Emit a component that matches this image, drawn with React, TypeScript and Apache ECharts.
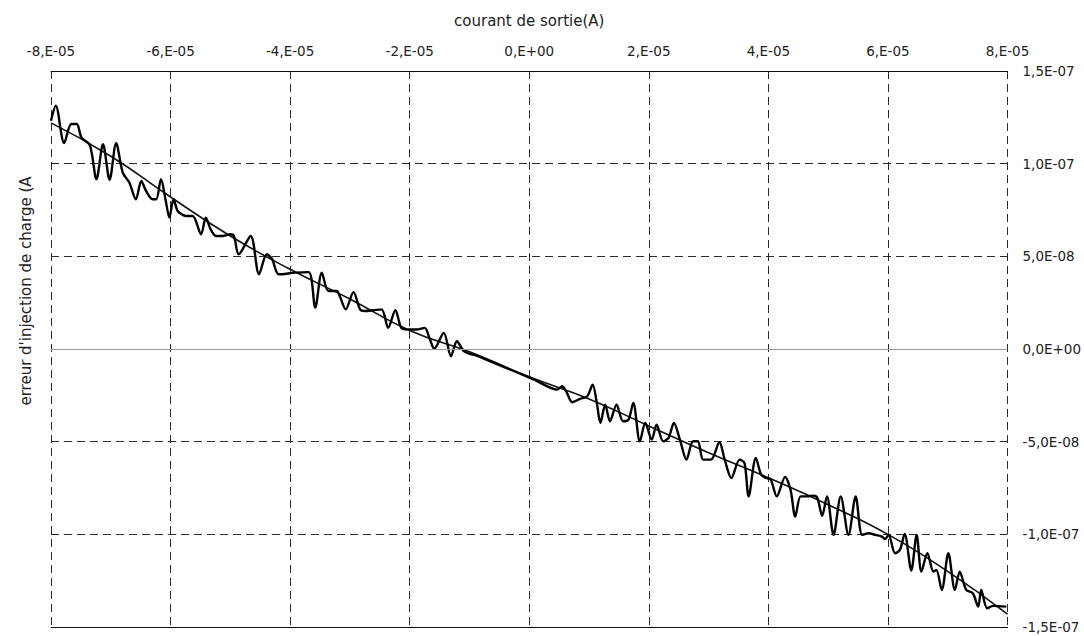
import React, { useEffect, useRef } from "react";
import * as echarts from "echarts";

// Noisy measured curve: x in units of 1E-05 A, y in units of 1E-08 A
const courantE5 = [
  -8.0, -7.92, -7.78, -7.66, -7.57, -7.49, -7.35, -7.24, -7.13, -7.02, -6.91, -6.8, -6.69, -6.58, -6.49,
  -6.41, -6.3, -6.24, -6.16, -6.08, -6.02, -5.95, -5.88, -5.74, -5.63, -5.49, -5.41, -5.33, -5.24, -5.13,
  -5.0, -4.94, -4.86, -4.66, -4.52, -4.39, -4.3, -4.19, -3.91, -3.69, -3.58, -3.47, -3.36, -3.22, -3.17,
  -3.07, -2.94, -2.83, -2.75, -2.61, -2.47, -2.36, -2.24, -2.14, -2.03, -1.89, -1.75, -1.67, -1.59, -1.43,
  -1.31, -1.21, -1.09, -0.86, -0.59, -0.25, 0.08, 0.47, 0.55, 0.62, 0.72, 0.85, 0.97, 1.06, 1.13,
  1.19, 1.27, 1.35, 1.46, 1.57, 1.66, 1.74, 1.85, 1.94, 2.05, 2.13, 2.24, 2.33, 2.42, 2.52,
  2.63, 2.74, 2.82, 2.91, 3.04, 3.18, 3.27, 3.38, 3.52, 3.6, 3.67, 3.79, 3.88, 3.96, 4.04,
  4.14, 4.28, 4.37, 4.45, 4.54, 4.65, 4.76, 4.82, 4.9, 4.98, 5.09, 5.21, 5.34, 5.46, 5.57,
  5.68, 5.79, 5.9, 5.95, 6.01, 6.12, 6.2, 6.28, 6.39, 6.48, 6.56, 6.66, 6.76, 6.81, 6.9,
  7.01, 7.12, 7.2, 7.31, 7.42, 7.51, 7.56, 7.66, 7.76, 7.98,
];
const erreurE8 = [
  12.32, 13.13, 11.11, 12.14, 12.14, 11.41, 11.0, 9.16, 11.05, 9.13, 11.11, 9.52, 8.98, 8.08, 9.07,
  8.53, 8.08, 8.08, 9.16, 7.99, 7.09, 8.08, 7.45, 7.18, 7.18, 6.19, 7.09, 6.46, 6.1, 6.1,
  6.19, 6.1, 5.11, 6.1, 4.03, 5.11, 4.84, 4.03, 4.12, 4.15, 2.23, 4.12, 3.13, 3.13, 2.86,
  2.14, 3.07, 2.14, 2.05, 2.09, 2.14, 1.14, 2.09, 1.14, 1.05, 1.05, 1.14, 0.6, 0.01, 0.87,
  -0.39, 0.42, -0.12, -0.39, -0.75, -1.2, -1.65, -2.19, -2.01, -2.3, -2.87, -2.69, -2.55, -1.92, -2.91,
  -3.99, -3.0, -3.9, -3.0, -3.9, -3.81, -2.91, -4.98, -3.99, -4.89, -4.08, -4.98, -4.8, -3.99, -4.89,
  -5.97, -4.98, -4.98, -5.97, -5.97, -5.03, -5.97, -6.96, -5.97, -6.15, -7.95, -5.88, -6.78, -6.96, -7.05,
  -7.95, -6.9, -7.59, -9.04, -7.95, -7.95, -7.91, -8.04, -9.0, -7.95, -10.03, -7.95, -10.03, -7.95, -10.03,
  -9.94, -10.03, -10.12, -10.26, -10.03, -11.02, -10.84, -9.98, -11.95, -10.03, -12.01, -11.02, -12.01, -11.92, -13.0,
  -11.02, -13.0, -12.01, -13.0, -13.18, -13.9, -13.0, -13.99, -13.86, -13.9,
];

// Trend curve
const fitX = [-8, -7, -6, -5, -4, -3, -2, -1, 0, 1, 2, 3, 4, 5, 6, 7, 8];
const fitY = [12.2, 10.4, 8.2, 6.1, 4.3, 2.7, 1.0, -0.15, -1.5, -2.7, -4.15, -5.6, -6.95, -8.4, -10.0, -12.0, -14.3];

// Tick labels
const xTickLabels = ["-8,E-05", "-6,E-05", "-4,E-05", "-2,E-05", "0,E+00", "2,E-05", "4,E-05", "6,E-05", "8,E-05"];
const yTickLabels = ["-1,5E-07", "-1,0E-07", "-5,0E-08", "0,0E+00", "5,0E-08", "1,0E-07", "1,5E-07"];

const X_MIN = -8;
const X_MAX = 8;
const X_STEP = 2;
const Y_MIN = -15;
const Y_MAX = 15;
const Y_STEP = 5;

const FONT = "DejaVu Sans, Liberation Sans, Arial, sans-serif";

export default function App() {
  const ref = useRef<HTMLDivElement>(null);

  useEffect(() => {
    if (!ref.current) return;
    const chart = echarts.init(ref.current, null, { renderer: "svg" });
    const noisy = courantE5.map((x, i) => [x, erreurE8[i]]);
    const fit = fitX.map((x, i) => [x, fitY[i]]);
    const gridColor = "#2a2a2a";
    chart.setOption({
      animation: false,
      backgroundColor: "#ffffff",
      grid: { left: 51, right: 71, top: 71, bottom: 9, containLabel: false },
      xAxis: [
        {
          type: "value",
          position: "top",
          min: X_MIN,
          max: X_MAX,
          interval: X_STEP,
          name: "courant de sortie(A)",
          nameLocation: "middle",
          nameGap: 43,
          nameTextStyle: { fontSize: 15, color: "#222", fontFamily: FONT },
          axisLine: { show: true, onZero: false, lineStyle: { color: "#111", width: 1 } },
          axisTick: { show: false },
          axisLabel: {
            margin: 13,
            fontSize: 13.5,
            color: "#222",
            fontFamily: FONT,
            formatter: (v: number) => xTickLabels[Math.round((v - X_MIN) / X_STEP)] ?? "",
          },
          splitLine: { show: true, lineStyle: { type: [8, 5], color: gridColor, width: 1 } },
        },
        {
          type: "value",
          position: "bottom",
          min: X_MIN,
          max: X_MAX,
          interval: X_STEP,
          axisLine: { show: true, onZero: false, lineStyle: { color: "#111", width: 1 } },
          axisTick: { show: false },
          axisLabel: { show: false },
          splitLine: { show: false },
        },
      ],
      yAxis: {
        type: "value",
        position: "right",
        min: Y_MIN,
        max: Y_MAX,
        interval: Y_STEP,
        axisLine: { show: false },
        axisTick: { show: false },
        axisLabel: {
          margin: 15,
          fontSize: 13.5,
          color: "#222",
          fontFamily: FONT,
          formatter: (v: number) => yTickLabels[Math.round((v - Y_MIN) / Y_STEP)] ?? "",
        },
        splitLine: {
          show: true,
          lineStyle: {
            type: [8, 5],
            color: [gridColor, gridColor, gridColor, "#9a9a9a", gridColor, gridColor, gridColor],
            width: 1,
          },
        },
      },
      graphic: [
        {
          type: "text",
          x: 26,
          y: 291,
          rotation: Math.PI / 2,
          style: {
            text: "erreur d'injection de charge (A",
            fontSize: 15,
            fontFamily: FONT,
            fill: "#222",
            textAlign: "center",
            textVerticalAlign: "middle",
          },
        },
      ],
      series: [
        {
          type: "line",
          name: "trend",
          xAxisIndex: 0,
          data: fit,
          smooth: true,
          showSymbol: false,
          symbol: "none",
          lineStyle: { color: "#111", width: 1.6 },
          markLine: {
            silent: true,
            symbol: "none",
            label: { show: false },
            lineStyle: { color: "#9a9a9a", type: "solid", width: 1 },
            data: [{ yAxis: 0 }],
          },
          z: 3,
        },
        {
          type: "line",
          name: "mesure",
          xAxisIndex: 0,
          data: noisy,
          smooth: 0.3,
          showSymbol: false,
          symbol: "none",
          lineStyle: { color: "#000", width: 2.4 },
          z: 4,
        },
      ],
    });
    return () => chart.dispose();
  }, []);

  return (
    <div
      ref={ref}
      style={{ position: "absolute", left: 0, top: 0, width: 1084, height: 636, background: "#fff" }}
    />
  );
}
